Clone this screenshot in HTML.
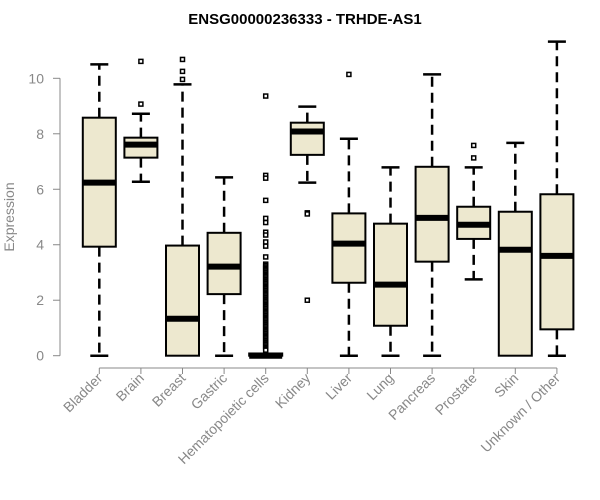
<!DOCTYPE html>
<html><head><meta charset="utf-8"><style>
html,body{margin:0;padding:0;background:#fff;}
svg{display:block;font-family:"Liberation Sans",Arial,sans-serif;}
</style></head><body>
<svg id="chart" width="600" height="500" viewBox="0 0 600 500">
<text x="305" y="24" text-anchor="middle" font-size="15" font-weight="bold" fill="#000">ENSG00000236333 - TRHDE-AS1</text>
<text transform="translate(14,217) rotate(-90)" text-anchor="middle" font-size="14" fill="#888">Expression</text>
<g id="axes"></g><g id="boxes"></g>
</svg>
<script>
const categories=["Bladder","Brain","Breast","Gastric","Hematopoietic cells","Kidney","Liver","Lung","Pancreas","Prostate","Skin","Unknown / Other"];
const whiskLow=[0,6.27,0,0,0,6.24,0,0,0,2.75,0,0];
const q1=[3.93,7.14,0,2.22,0,7.24,2.63,1.08,3.39,4.21,0,0.95];
const medians=[6.24,7.61,1.33,3.21,0,8.08,4.04,2.56,4.97,4.72,3.82,3.6];
const q3=[8.58,7.86,3.97,4.43,0.08,8.4,5.13,4.76,6.81,5.37,5.19,5.82];
const whiskHigh=[10.5,8.72,9.78,6.43,0.08,8.98,7.82,6.79,10.14,6.79,7.67,11.32];
const outliers=[[],[10.61,9.07],[10.68,10.25,9.96],[],
[9.36,6.5,6.4,5.6,4.95,4.8,4.45,4.35,4.1,3.95,3.56,3.3,3.25,3.2,3.15,3.1,3.05,3.0,2.95,2.9,2.85,2.8,2.75,2.7,2.65,2.6,2.55,2.5,2.45,2.4,2.35,2.3,2.25,2.2,2.15,2.1,2.05,2.0,1.95,1.9,1.85,1.8,1.75,1.7,1.65,1.6,1.55,1.5,1.45,1.4,1.35,1.3,1.25,1.2,1.15,1.1,1.05,1.0,0.95,0.9,0.85,0.8,0.75,0.7,0.65,0.6,0.55,0.5,0.45,0.4,0.35,0.3,0.25,0.2],
[5.15,5.11,2.0],[10.14],[],[],[7.58,7.13],[],[]];
const yTicks=[0,2,4,6,8,10];
const NS="http://www.w3.org/2000/svg";
const yS=v=>355.7-27.74*v;
const xS=i=>99.3+41.6*i;
const axes=document.getElementById('axes'),boxes=document.getElementById('boxes');
function mk(tag,attrs,parent){const e=document.createElementNS(NS,tag);for(const k in attrs)e.setAttribute(k,attrs[k]);parent.appendChild(e);return e;}
let yl=mk('line',{x1:60,x2:60,y1:yS(yTicks[yTicks.length-1]),y2:yS(0),stroke:'#888','stroke-width':1},axes);


yTicks.forEach(t=>{
 const tk=mk('line',{x1:53,x2:60,y1:yS(t),y2:yS(t),stroke:'#888'},axes);
 
 
 const tx=mk('text',{x:44,y:yS(t)+5,'text-anchor':'end','font-size':14,fill:'#888'},axes);
 tx.textContent=t;
 
 
});
let xl=mk('line',{x1:xS(0),x2:xS(categories.length-1),y1:368,y2:368,stroke:'#888'},axes);


categories.forEach((c,i)=>{
 const x=xS(i);
 const tk=mk('line',{x1:x,x2:x,y1:368,y2:374,stroke:'#888'},axes);
 
 
 const tx=mk('text',{transform:`translate(${x+4},${379}) rotate(-45)`,'text-anchor':'end','font-size':14,fill:'#888'},axes);
 tx.textContent=c;
 
 
 const g=mk('g',{},boxes);
 
 
 if(whiskHigh[i]>q3[i]){
  mk('line',{x1:x,x2:x,y1:yS(q3[i]),y2:yS(whiskHigh[i]),stroke:'#000','stroke-width':2.5,'stroke-dasharray':'10 6'},g);
  mk('line',{x1:x-9,x2:x+9,y1:yS(whiskHigh[i]),y2:yS(whiskHigh[i]),stroke:'#000','stroke-width':2.5},g);
 }
 if(q1[i]>whiskLow[i]){
  mk('line',{x1:x,x2:x,y1:yS(q1[i]),y2:yS(whiskLow[i]),stroke:'#000','stroke-width':2.5,'stroke-dasharray':'10 6'},g);
  mk('line',{x1:x-9,x2:x+9,y1:yS(whiskLow[i]),y2:yS(whiskLow[i]),stroke:'#000','stroke-width':2.5},g);
 }
 mk('rect',{x:x-16.5,y:yS(q3[i]),width:33,height:Math.max(0.5,yS(q1[i])-yS(q3[i])),fill:'#ede8cf',stroke:'#000','stroke-width':2},g);
 mk('line',{x1:x-16.5,x2:x+16.5,y1:yS(medians[i]),y2:yS(medians[i]),stroke:'#000','stroke-width':6},g);
 outliers[i].forEach(v=>{
  const o=mk('rect',{x:x-2,y:yS(v)-2,width:4,height:4,fill:'#fff',stroke:'#000','stroke-width':1.5},g);
  
  
 });
});
</script>
</body></html>
